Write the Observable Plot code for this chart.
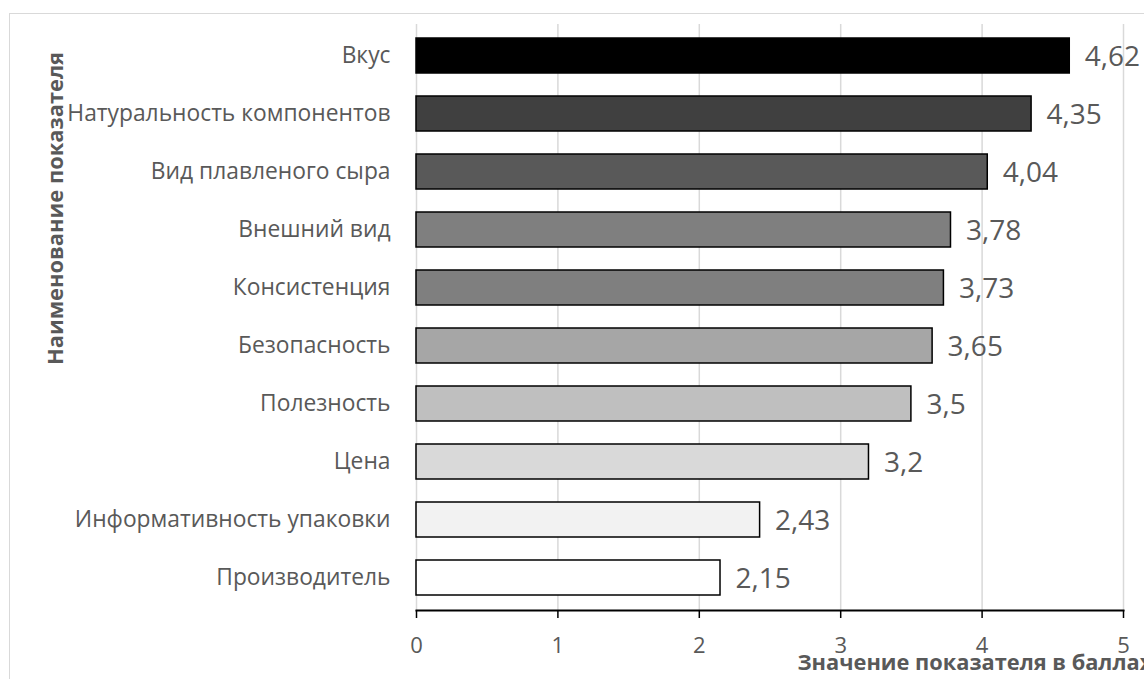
<!DOCTYPE html>
<html>
<head>
<meta charset="utf-8">
<script src="https://cdn.jsdelivr.net/npm/d3@7"></script>
<script src="https://cdn.jsdelivr.net/npm/@observablehq/plot@0.6"></script>
<style>
  html, body { margin: 0; padding: 0; background: #fff; overflow: hidden; }
  #wrap { position: relative; width: 1144px; height: 679px; overflow: hidden; }
  #border { position: absolute; left: 9px; top: 13px; width: 1300px; height: 800px; border: 1.5px solid #d9d9d9; box-sizing: border-box; }
  #chart { position: absolute; left: 0; top: 0; }
</style>
</head>
<body>
<div id="wrap"><div id="border"></div><div id="chart"></div></div>
<script>
const categories = ["Вкус", "Натуральность компонентов", "Вид плавленого сыра", "Внешний вид", "Консистенция", "Безопасность", "Полезность", "Цена", "Информативность упаковки", "Производитель"];
const values = [4.62, 4.35, 4.04, 3.78, 3.73, 3.65, 3.5, 3.2, 2.43, 2.15];
const xTicks = [0, 1, 2, 3, 4, 5];
const xTitle = "Значение показателя в баллах";
const yTitle = "Наименование показателя";

const data = categories.map((c, i) => ({category: c, value: values[i]}));
const fmt = v => String(v).replace(".", ",");
const font = "'Open Sans', sans-serif";
const textGray = "#595959";

const chart = Plot.plot({
  width: 1144,
  height: 679,
  marginTop: 24,
  marginBottom: 69,
  marginLeft: 416,
  marginRight: 21,
  style: {fontFamily: font, fontSize: "22px", background: "transparent", overflow: "visible"},
  x: {domain: [0, 5], axis: null},
  y: {domain: categories, paddingInner: 0.39, paddingOuter: 0.195, axis: null},
  color: {type: "ordinal", domain: categories, range: ["#000000", "#404040", "#595959", "#7f7f7f", "#7f7f7f", "#a6a6a6", "#bfbfbf", "#d9d9d9", "#f2f2f2", "#ffffff"]},
  marks: [
    Plot.ruleX(xTicks, {stroke: "#d9d9d9", strokeWidth: 1.5}),
    Plot.barX(data, {x: "value", y: "category", fill: "category", stroke: "#000", strokeWidth: 1.5}),
    Plot.text(data, {x: "value", y: "category", text: d => fmt(d.value), textAnchor: "start", dx: 15, dy: 1, fontSize: 28, fill: textGray}),
    Plot.axisY({tickSize: 0, tickPadding: 26, fontSize: 22.8, fill: textGray, label: null}),
    Plot.axisX({ticks: xTicks, tickSize: 8, tickPadding: 19, stroke: "#000", strokeWidth: 1.5, fontSize: 22, fill: textGray, tickFormat: d => String(d), label: null}),
    Plot.frame({anchor: "bottom", stroke: "#000", strokeWidth: 2}),
    Plot.text([xTitle], {frameAnchor: "bottom-left", dx: 381, dy: 59, textAnchor: "start", fontSize: 21.8, fontWeight: "bold", fill: textGray}),
    Plot.text([yTitle], {frameAnchor: "left", textAnchor: "middle", dx: -361, dy: -109, rotate: -90, fontSize: 21.9, fontWeight: "bold", fill: textGray})
  ]
});
document.getElementById("chart").appendChild(chart);
</script>
</body>
</html>
